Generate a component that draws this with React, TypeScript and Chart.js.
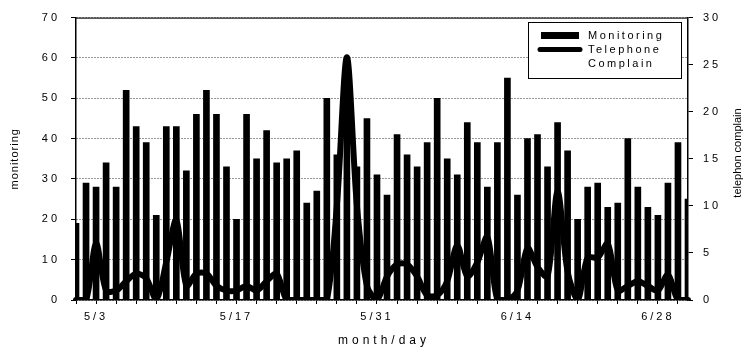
import React, { useEffect, useRef } from "react";
import { Chart, registerables } from "chart.js";

Chart.register(...registerables);

const dates = [
  "5/1","5/2","5/3","5/4","5/5","5/6","5/7","5/8","5/9","5/10",
  "5/11","5/12","5/13","5/14","5/15","5/16","5/17","5/18","5/19","5/20",
  "5/21","5/22","5/23","5/24","5/25","5/26","5/27","5/28","5/29","5/30",
  "5/31","6/1","6/2","6/3","6/4","6/5","6/6","6/7","6/8","6/9",
  "6/10","6/11","6/12","6/13","6/14","6/15","6/16","6/17","6/18","6/19",
  "6/20","6/21","6/22","6/23","6/24","6/25","6/26","6/27","6/28","6/29",
  "6/30","7/1",
];

const monitoring = [
  19, 29, 28, 34, 28, 52, 43, 39, 21, 43,
  43, 32, 46, 52, 46, 33, 20, 46, 35, 42,
  34, 35, 37, 24, 27, 50, 36, 55, 33, 45,
  31, 26, 41, 36, 33, 39, 50, 35, 31, 44,
  39, 28, 39, 55, 26, 40, 41, 33, 44, 37,
  20, 28, 29, 23, 24, 40, 28, 23, 21, 29,
  39, 25,
];

const telephone = [
  0, 0, 6, 1, 1, 2, 2.8, 2.3, 0, 4,
  8.5, 1.5, 2.8, 2.8, 1.5, 1, 1, 1.5, 1, 2,
  2.8, 0, 0, 0, 0, 0, 10, 25.8, 10, 1.5,
  0, 2.5, 3.8, 3.8, 2.5, 0.5, 0.5, 2, 5.8, 2.5,
  4, 6.7, 0, 0, 1, 5.5, 3.5, 2.5, 11.5, 3,
  0, 4.5, 4.5, 6, 1, 1.5, 2, 1.5, 1, 2.7,
  0, 0,
];

const tickLabels = ["5/3", "5/17", "5/31", "6/14", "6/28"];
const leftTicks = [0, 10, 20, 30, 40, 50, 60, 70];
const rightTicks = [0, 5, 10, 15, 20, 25, 30];

const FONT = "Arial, 'Liberation Sans', sans-serif";

const decorPlugin = {
  id: "decor",
  beforeDraw(chart: any) {
    (chart.ctx as any).letterSpacing = "3px";
  },
  afterDraw(chart: any) {
    const ctx = chart.ctx as CanvasRenderingContext2D;
    const a = chart.chartArea;
    ctx.save();
    // top border
    ctx.strokeStyle = "#222";
    ctx.lineWidth = 1.2;
    ctx.beginPath();
    ctx.moveTo(a.left, a.top + 0.5);
    ctx.lineTo(a.right, a.top + 0.5);
    ctx.stroke();

    ctx.fillStyle = "#000";
    // x title
    (ctx as any).letterSpacing = "4px";
    ctx.font = `12px ${FONT}`;
    ctx.textAlign = "center";
    ctx.textBaseline = "middle";
    ctx.fillText("month/day", (a.left + a.right) / 2 + 2, 341);

    // left title
    (ctx as any).letterSpacing = "1px";
    ctx.font = `11px ${FONT}`;
    ctx.save();
    ctx.translate(15, (a.top + a.bottom) / 2);
    ctx.rotate(-Math.PI / 2);
    ctx.fillText("monitoring", 0, 0);
    ctx.restore();

    // right title
    (ctx as any).letterSpacing = "0px";
    ctx.save();
    ctx.translate(738, 153);
    ctx.rotate(-Math.PI / 2);
    ctx.fillText("telephon complain", 0, 0);
    ctx.restore();

    // legend
    const lx = 528, ly = 22, lw = 153, lh = 56;
    ctx.fillStyle = "#fff";
    ctx.fillRect(lx, ly, lw, lh);
    ctx.strokeStyle = "#000";
    ctx.lineWidth = 1;
    ctx.strokeRect(lx + 0.5, ly + 0.5, lw, lh);
    ctx.fillStyle = "#000";
    ctx.fillRect(541, 32, 38, 7);
    ctx.lineWidth = 5;
    ctx.lineCap = "round";
    ctx.beginPath();
    ctx.moveTo(540, 49.5);
    ctx.lineTo(580, 49.5);
    ctx.stroke();
    (ctx as any).letterSpacing = "2.5px";
    ctx.font = `11px ${FONT}`;
    ctx.textAlign = "left";
    ctx.fillText("Monitoring", 588, 35.5);
    ctx.fillText("Telephone", 588, 50);
    ctx.fillText("Complain", 588, 64);
    ctx.restore();
  },
};

export default function App() {
  const ref = useRef<HTMLCanvasElement | null>(null);
  useEffect(() => {
    if (!ref.current) return;
    const chart = new Chart(ref.current, {
      type: "bar",
      data: {
        labels: dates,
        datasets: [
          {
            type: "bar",
            label: "Monitoring",
            data: monitoring,
            backgroundColor: "#000",
            borderWidth: 0,
            barThickness: 6,
            yAxisID: "y",
            order: 1,
          },
          {
            type: "line",
            label: "Telephone Complain",
            data: telephone,
            borderColor: "#000",
            backgroundColor: "#000",
            borderWidth: 6,
            pointRadius: 0,
            tension: 0.3,
            borderCapStyle: "round",
            borderJoinStyle: "round",
            yAxisID: "y1",
            order: 0,
          } as any,
        ],
      },
      plugins: [decorPlugin],
      options: {
        responsive: false,
        animation: false,
        devicePixelRatio: 1,
        layout: { padding: { top: 14, left: 0, right: 0, bottom: 0 } },
        plugins: { legend: { display: false }, tooltip: { enabled: false } },
        scales: {
          x: {
            type: "category",
            offset: false,
            grid: {
              offset: false,
              drawOnChartArea: false,
              drawTicks: true,
              tickLength: 4,
              tickColor: (c: any) => (c.index % 2 === 0 ? "#000" : "rgba(0,0,0,0)"),
            },
            border: { display: true, color: "#000", width: 1.5 },
            ticks: {
              autoSkip: false,
              maxRotation: 0,
              minRotation: 0,
              padding: 6,
              color: "#000",
              font: { family: FONT, size: 11 },
              callback: (_v: any, i: number) => (tickLabels.includes(dates[i]) ? dates[i] : ""),
            },
            afterFit: (s: any) => {
              s.height = 51;
            },
          },
          y: {
            position: "left",
            min: 0,
            max: 70,
            afterBuildTicks: (s: any) => {
              s.ticks = leftTicks.map((v) => ({ value: v }));
            },
            grid: {
              color: "#333",
              lineWidth: 1,
              drawTicks: true,
              tickLength: 5,
              tickColor: "#000",
            },
            border: { display: true, color: "#000", width: 1.5, dash: [1, 2] },
            ticks: {
              padding: 11,
              color: "#000",
              font: { family: FONT, size: 11 },
            },
            afterFit: (s: any) => {
              s.width = 76;
            },
          },
          y1: {
            position: "right",
            min: 0,
            max: 30,
            afterBuildTicks: (s: any) => {
              s.ticks = rightTicks.map((v) => ({ value: v }));
            },
            grid: {
              drawOnChartArea: false,
              drawTicks: true,
              tickLength: 5,
              tickColor: "#000",
            },
            border: { display: true, color: "#000", width: 1.5 },
            ticks: {
              padding: 10,
              color: "#000",
              font: { family: FONT, size: 11 },
            },
            afterFit: (s: any) => {
              s.width = 61;
            },
          },
        },
      } as any,
    });
    return () => chart.destroy();
  }, []);

  return (
    <div style={{ position: "absolute", left: 0, top: 0, width: 749, height: 351, background: "#fff" }}>
      <canvas ref={ref} width={749} height={351} style={{ display: "block" }} />
    </div>
  );
}
